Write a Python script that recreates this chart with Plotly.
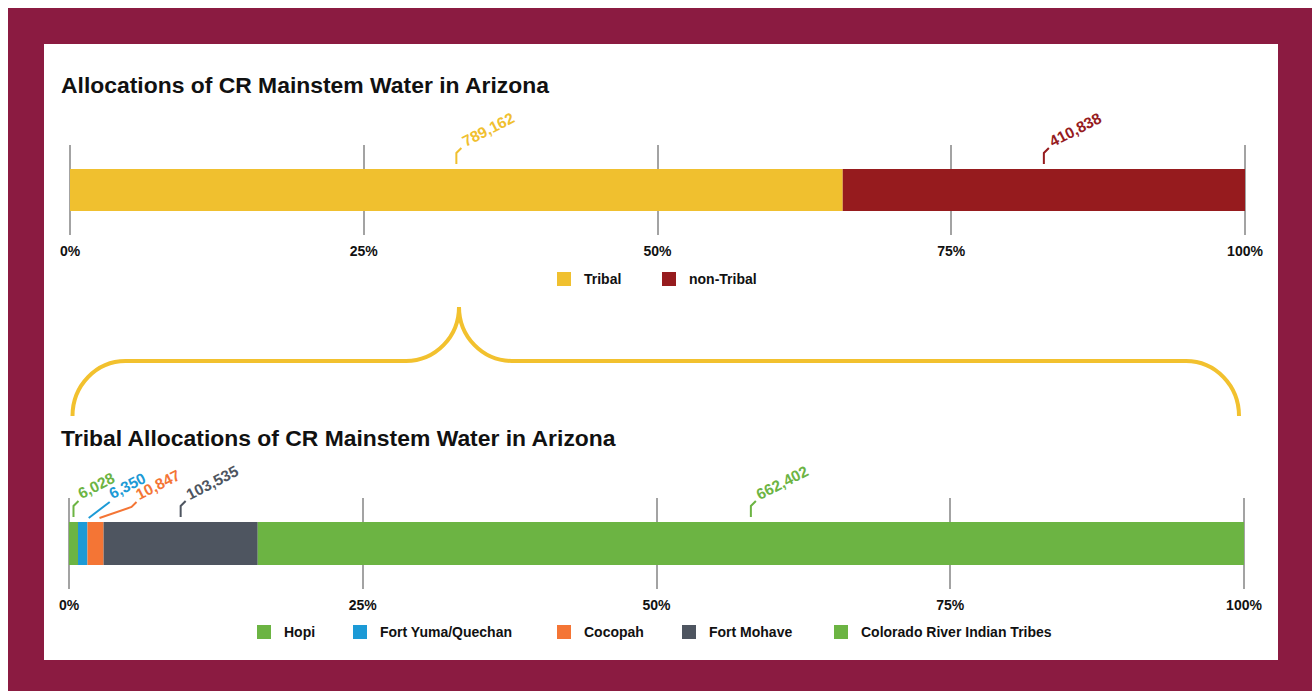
import plotly.graph_objects as go

# ---------------- data ----------------
top_categories = ["Tribal", "non-Tribal"]
top_values = [789162, 410838]

tribe_categories = ["Hopi", "Fort Yuma/Quechan", "Cocopah", "Fort Mohave",
                    "Colorado River Indian Tribes"]
tribe_values = [6028, 6350, 10847, 103535, 662402]

tick_vals = [0, 0.25, 0.5, 0.75, 1.0]
tick_text = ["0%", "25%", "50%", "75%", "100%"]

title_top = "Allocations of CR Mainstem Water in Arizona"
title_bottom = "Tribal Allocations of CR Mainstem Water in Arizona"

# ---------------- styles / layout ----------------
top_colors = ["#F0C02F", "#961B1E"]
tribe_colors = ["#6CB443", "#1C9AD6", "#F47535", "#4E5560", "#6CB443"]

W, H = 1312, 691
MAROON = "#8B1B41"
BRACE = "#F2C12E"
GRID = "#A3A3A3"
FONT = "Liberation Sans, Arial, Helvetica, sans-serif"
PAD = 4  # px padding so that 0% / 100% gridlines are drawn


def fx(px):
    return px / W


def fy(py):
    return 1 - py / H


def x_domain(left, right):
    return [fx(left - PAD), fx(right + PAD)], [-PAD / (right - left), 1 + PAD / (right - left)]


# axis pixel geometry
TOP_X = (70, 1245)
TOP_Y = (145, 235)
BOT_X = (69, 1244)
BOT_Y = (498, 589)
BAR_W_TOP = 42 / 90
BAR_W_BOT = 43 / 91

# label leader / text offsets (pixels relative to segment middle at bar top)
std_leader = "M0,5 L0,16 L5,21"
top_leaders = [std_leader, std_leader]
top_text_off = [(8, 21), (8, 21)]
bot_leaders = [std_leader, "M6,4 L27,20", "M4,4 L36,15 L41,20", std_leader, std_leader]
bot_text_off = [(7, 21), (29, 21), (43, 21), (8, 21), (8, 21)]
TEXT_ANGLE = -27

# legend geometry (square left x, center y)
top_legend_x = [557, 662]
top_legend_y = 279
bot_legend_x = [257, 353, 557, 682, 834]
bot_legend_y = 632
SQ = 14

fig = go.Figure()

shapes = []
annotations = []

# background frame
shapes.append(dict(type="rect", xref="paper", yref="paper", x0=fx(8), x1=fx(W), y0=fy(H), y1=fy(8),
                   fillcolor=MAROON, line=dict(width=0), layer="below"))
shapes.append(dict(type="rect", xref="paper", yref="paper", x0=fx(44), x1=fx(1278), y0=fy(660), y1=fy(44),
                   fillcolor="white", line=dict(width=0), layer="below"))


def add_stack(categories, values, colors, xa, ya, bar_w, leaders, text_off, total):
    cum = 0
    for cat, val, col, lead, (dx, up) in zip(categories, values, colors, leaders, text_off):
        frac = val / total
        fig.add_trace(go.Bar(
            x=[frac], y=[0], base=[cum / total], orientation="h", width=bar_w,
            marker=dict(color=col, line=dict(width=0)), name=cat, showlegend=False,
            xaxis=xa, yaxis=ya,
            hovertemplate=f"{cat}: {val:,}<extra></extra>"))
        mid = (cum + val / 2) / total
        shapes.append(dict(type="path", xref=xa, yref=ya, xsizemode="pixel", ysizemode="pixel",
                           xanchor=mid, yanchor=bar_w / 2, path=lead,
                           line=dict(color=col, width=2)))
        annotations.append(dict(
            x=mid, y=bar_w / 2, xref=xa, yref=ya, text=f"<b>{val:,}</b>", showarrow=False,
            textangle=TEXT_ANGLE, xanchor="left", yanchor="bottom",
            xshift=dx - 8, yshift=up - 4,
            font=dict(family=FONT, size=15.5, color=col)))
        cum += val


add_stack(top_categories, top_values, top_colors, "x", "y", BAR_W_TOP,
          top_leaders, top_text_off, sum(top_values))
add_stack(tribe_categories, tribe_values, tribe_colors, "x2", "y2", BAR_W_BOT,
          bot_leaders, bot_text_off, sum(tribe_values))

# titles
for txt, yy in [(title_top, 85), (title_bottom, 438)]:
    annotations.append(dict(x=fx(59), y=fy(yy), xref="paper", yref="paper", text=f"<b>{txt}</b>",
                            showarrow=False, xanchor="left", yanchor="middle",
                            font=dict(family=FONT, size=22.9, color="#111111")))

# legends
for cats, cols, xs, yc in [(top_categories, top_colors, top_legend_x, top_legend_y),
                           (tribe_categories, tribe_colors, bot_legend_x, bot_legend_y)]:
    for cat, col, x0 in zip(cats, cols, xs):
        shapes.append(dict(type="rect", xref="paper", yref="paper",
                           x0=fx(x0), x1=fx(x0 + SQ), y0=fy(yc + SQ / 2), y1=fy(yc - SQ / 2),
                           fillcolor=col, line=dict(width=0)))
        annotations.append(dict(x=fx(x0 + 25), y=fy(yc), xref="paper", yref="paper",
                                text=f"<b>{cat}</b>", showarrow=False, xanchor="left",
                                yanchor="middle",
                                font=dict(family=FONT, size=14, color="#111111")))

# curly brace (pixel coords -> paper)
k = 0.5523
bx0, by0 = 72.5, 416
hy = 361
px_, py_ = 459, 307
bx1 = 1239
r = 53
pts = [
    ("M", [(bx0, by0)]),
    ("C", [(bx0, by0 - k * (by0 - hy)), (bx0 + r - k * r, hy), (bx0 + r, hy)]),
    ("L", [(px_ - r, hy)]),
    ("C", [(px_ - r + k * r, hy), (px_, py_ + k * (hy - py_)), (px_, py_)]),
    ("C", [(px_, py_ + k * (hy - py_)), (px_ + r - k * r, hy), (px_ + r, hy)]),
    ("L", [(bx1 - r, hy)]),
    ("C", [(bx1 - r + k * r, hy), (bx1, by0 - k * (by0 - hy)), (bx1, by0)]),
]
path = " ".join(cmd + " " + " ".join(f"{fx(a):.5f},{fy(b):.5f}" for a, b in p) for cmd, p in pts)
shapes.append(dict(type="path", xref="paper", yref="paper", path=path,
                   line=dict(color=BRACE, width=4)))

dom_top, rng_top = x_domain(*TOP_X)
dom_bot, rng_bot = x_domain(*BOT_X)

axis_common = dict(tickvals=tick_vals, ticktext=tick_text, showgrid=True, gridcolor=GRID,
                   gridwidth=2, zeroline=False, showline=False, ticks="", automargin=False,
                   tickfont=dict(family=FONT, size=14, color="#111111", weight="bold"),
                   ticklabelstandoff=6, fixedrange=True)
yaxis_common = dict(range=[-0.5, 0.5], visible=False, automargin=False, fixedrange=True)

fig.update_layout(
    width=W, height=H, margin=dict(l=0, r=0, t=0, b=0, pad=0, autoexpand=False),
    paper_bgcolor="white", plot_bgcolor="rgba(0,0,0,0)",
    barmode="overlay", showlegend=False,
    xaxis=dict(domain=dom_top, range=rng_top, anchor="y", **axis_common),
    yaxis=dict(domain=[fy(TOP_Y[1]), fy(TOP_Y[0])], anchor="x", **yaxis_common),
    xaxis2=dict(domain=dom_bot, range=rng_bot, anchor="y2", **axis_common),
    yaxis2=dict(domain=[fy(BOT_Y[1]), fy(BOT_Y[0])], anchor="x2", **yaxis_common),
    shapes=shapes, annotations=annotations,
)

fig.write_html(
    "out.html",
    config={"displayModeBar": False},
    post_script="document.documentElement.style.margin='0';document.body.style.margin='0';"
                "document.body.style.overflow='hidden';document.documentElement.style.overflow='hidden';",
)
